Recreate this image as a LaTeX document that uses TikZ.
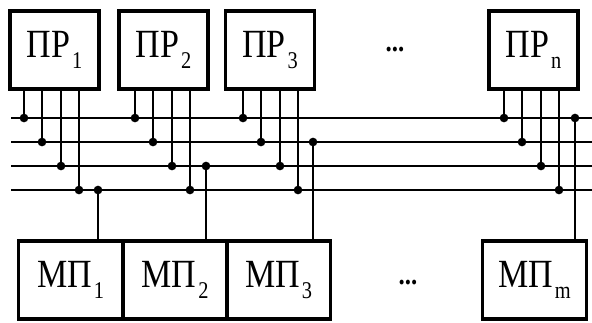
\documentclass[tikz,border=0pt]{standalone}
\usepackage{fontspec}
\setmainfont[FakeStretch=0.85]{Liberation Serif}
\newcommand{\subtxt}[1]{\kern1.5pt\raisebox{-8pt}{\fontsize{18}{18}\selectfont #1}}
\begin{document}
\begin{tikzpicture}[x=0.75pt,y=-0.75pt,
  blk/.style={draw,line width=2.4pt,inner sep=0pt,font=\fontsize{30}{30}\selectfont},
  pr/.style={blk,minimum width=66.75pt,minimum height=58.5pt},
  mp/.style={blk,minimum width=78pt,minimum height=58.5pt},
  ln/.style={line width=1.6pt},
  dot/.style={circle,fill,inner sep=0pt,minimum size=6.5pt}]
\useasboundingbox (0,0) rectangle (592,322);
% buses
\foreach \b/\y in {1/118,2/142,3/166,4/190} {
  \coordinate (bw\b) at (11,\y);
  \coordinate (be\b) at (592,\y);
  \draw[ln] (bw\b) -- (be\b);
}
% processors
\node[pr] (pr1) at (54.5,50) {ПР\subtxt{1}};
\node[pr] (pr2) at (163.5,50) {ПР\subtxt{2}};
\node[pr] (pr3) at (270,50) {ПР\subtxt{3}};
\node[pr] (prn) at (533.5,50) {ПР\subtxt{n}};
\node[font=\fontsize{22}{22}\selectfont\bfseries] (dtop) at (395,50) {...};
% memory
\node[mp] (mp1) at (70.5,280) {МП\subtxt{1}};
\node[mp] (mp2) at (175,280) {МП\subtxt{2}};
\node[mp] (mp3) at (278.5,280) {МП\subtxt{3}};
\node[mp] (mpm) at (534.5,280) {МП\subtxt{m}};
\node[font=\fontsize{22}{22}\selectfont\bfseries] (dbot) at (408,283) {...};
% taps
\foreach \x/\p/\b in {24/pr1/1,42/pr1/2,61/pr1/3,79/pr1/4,
    135/pr2/1,153/pr2/2,172/pr2/3,190/pr2/4,
    243/pr3/1,261/pr3/2,280/pr3/3,298/pr3/4,
    504/prn/1,522/prn/2,541/prn/3,559/prn/4} {
  \coordinate (t) at (\x,0);
  \draw[ln] (t |- \p.south) -- (t |- bw\b) node[dot] (d\x) {};
}
\foreach \x/\p/\b in {98/mp1/4,206/mp2/3,313/mp3/2,575/mpm/1} {
  \coordinate (t) at (\x,0);
  \draw[ln] (t |- \p.north) -- (t |- bw\b) node[dot] (d\x) {};
}
\end{tikzpicture}
\end{document}
